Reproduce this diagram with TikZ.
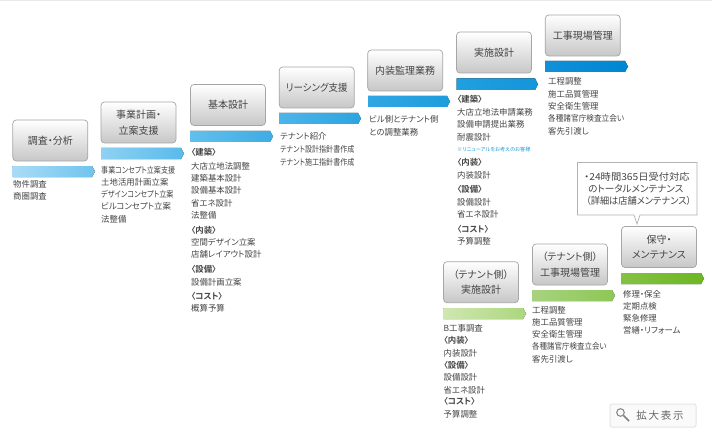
\documentclass[tikz,border=0pt]{standalone}
\usepackage{graphicx}
\usepackage{fontspec}
\setmainfont[RawFeature={+palt},BoldFont={Noto Sans CJK JP Bold}]{Noto Sans CJK JP}
\definecolor{txt}{HTML}{444444}
\definecolor{noteblue}{HTML}{1E9BDC}
\tikzset{
  stepbox/.style={draw=black!35,line width=0.7pt,rounded corners=3.5pt,top color=white,bottom color=black!22,
    minimum width=75pt,minimum height=41pt,inner sep=0pt,align=center,text=txt,font=\fontsize{10}{15.5}\selectfont},
  itemline/.style={anchor=west,inner sep=0pt,text=txt,font=\fontsize{8.4}{10}\selectfont,text height=7pt,text depth=1.5pt},
  notebox/.style={anchor=west,inner sep=0pt,align=left,text=txt,font=\fontsize{9.6}{12}\selectfont},
}
\newcommand{\hd}[1]{{\bfseries #1}}
\newcommand{\nw}[2]{\scalebox{#1}[1]{#2}}
\newcommand{\barr}[6]{\definecolor{barL}{HTML}{#5}\definecolor{barR}{HTML}{#6}\fill[left color=barL,right color=barR] (#1,#2) -- (#3-3,#2) -- (#3,#2/2+#4/2) -- (#3-3,#4) -- (#1,#4) -- cycle;}
\newcommand{\itemcol}[3]{\foreach \yy/\lab [count=\ii] in {#3} {\node[itemline,name=#1-\ii] at (#2,\yy) {\lab};}}
\begin{document}
\begin{tikzpicture}[x=1pt,y=-1pt]
\useasboundingbox (0,0) rectangle (712,441);
\fill[white] (0,0) rectangle (712,441);
\fill[black!9] (0,0) rectangle (712,1);

\node[stepbox] (b1) at (50.3,140.5) {調査・分析};
\node[stepbox] (b2) at (138.5,122.5) {事業計画・\\立案支援};
\node[stepbox] (b3) at (228,105) {基本設計};
\node[stepbox] (b4) at (316.7,87.5) {\nw{.95}{リーシング支援}};
\node[stepbox] (b5) at (405.2,70.5) {内装監理業務};
\node[stepbox] (b6) at (494,52.5) {実施設計};
\node[stepbox] (b7) at (582.8,35.5) {工事現場管理};
\node[stepbox] (b8) at (481,282.2) {（テナント側）\\実施設計};
\node[stepbox] (b9) at (570,264.5) {（テナント側）\\工事現場管理};
\node[stepbox] (b10) at (659,247) {保守・\\メンテナンス};

\barr{12.5}{166}{95}{177}{A9DBF5}{6FC4EE}
\barr{101}{148}{184}{159}{8FD1F3}{58BAEB}
\barr{190}{131}{273}{142}{62BFEC}{3FACE4}
\barr{279}{113}{361}{124}{4CB5E9}{2CA4E1}
\barr{368}{96}{450}{107}{30A7E3}{1F9CDD}
\barr{456.5}{78.5}{538}{90}{1FA0E0}{1595DA}
\barr{545}{61}{628}{72}{1090D9}{0086D1}
\barr{443.5}{308}{526}{319}{D0E7B0}{ABD67E}
\barr{532}{290}{615}{301}{A8D280}{8DC755}
\barr{621}{273}{704}{284}{84C244}{6DB623}

\itemcol{c1}{13}{185/物件調査,197/商圏調査}
\itemcol{c2}{101}{171/\nw{.84}{事業コンセプト立案支援},183/土地活用計画立案,195/\nw{.85}{デザインコンセプト立案},207/ビルコンセプト立案,220/法整備}
\itemcol{c3}{191}{153/\hd{〈建築〉},167/大店立地法調整,179/建築基本設計,191/設備基本設計,203.5/省エネ設計,215.5/法整備,231/\hd{〈内装〉},243/空間デザイン立案,255/店舗レイアウト設計,270/\hd{〈設備〉},282.5/設備計画立案,297/\hd{〈コスト〉},309/概算予算}
\itemcol{c4}{280}{137/テナント紹介,150/\nw{.84}{テナント設計指針書作成},162.5/\nw{.84}{テナント施工指針書作成}}
\itemcol{c5}{369}{120/ビル側とテナント側,132.5/との調整業務}
\itemcol{c6}{457}{100/\hd{〈建築〉},113/大店立地法申請業務,125/設備申請提出業務,137.5/耐震設計,163/\hd{〈内装〉},175.5/内装設計,190/\hd{〈設備〉},202.5/設備設計,215/省エネ設計,229.5/\hd{〈コスト〉},242/予算調整}
\node[itemline,name=renew,text=noteblue,font=\fontsize{5.2}{7}\selectfont] at (457,149) {※リニューアルをお考えのお客様};
\itemcol{c7}{548}{82/工程調整,94.5/施工品質管理,106.5/安全衛生管理,119/\nw{.91}{各種諸官庁検査立会い},131.5/客先引渡し}
\itemcol{c8}{443.5}{329/B工事調査,341/\hd{〈内装〉},353.5/内装設計,365.5/\hd{〈設備〉},378/設備設計,390.5/省エネ設計,402/\hd{〈コスト〉},414.5/予算調整}
\itemcol{c9}{532}{310.5/工程調整,322.5/施工品質管理,335/安全衛生管理,347/\nw{.89}{各種諸官庁検査立会い},359.5/客先引渡し}
\itemcol{c10}{623}{294.5/修理・保全,306.5/定期点検,319/緊急修理,331/営繕・リフォーム}

\draw[draw=black!30,fill=white,line width=0.7pt] (577.5,162.5) -- (697,162.5) -- (697,215) -- (640,215) -- (637,224) -- (634,215) -- (577.5,215) -- cycle;
\node[notebox] (note) at (584,189) {\nw{1.07}{・24時間365日受付対応}\\\hspace*{4pt}のトータルメンテナンス\\\hspace*{2pt}\nw{.96}{（詳細は店舗メンテナンス）}};

\draw[draw=black!10,fill=black!2,line width=1pt,rounded corners=2pt] (610,404) rectangle (696,427);
\draw[black!50,line width=1pt] (620.5,412.5) circle (3.8);
\draw[black!50,line width=1.6pt] (623.5,415.5) -- (629,421);
\node[inner sep=0pt,text=black!60,font=\fontsize{10.5}{12}\selectfont] (zoomlabel) at (660,415.5) {拡\kern1.8pt 大\kern1.8pt 表\kern1.8pt 示};
\end{tikzpicture}
\end{document}
